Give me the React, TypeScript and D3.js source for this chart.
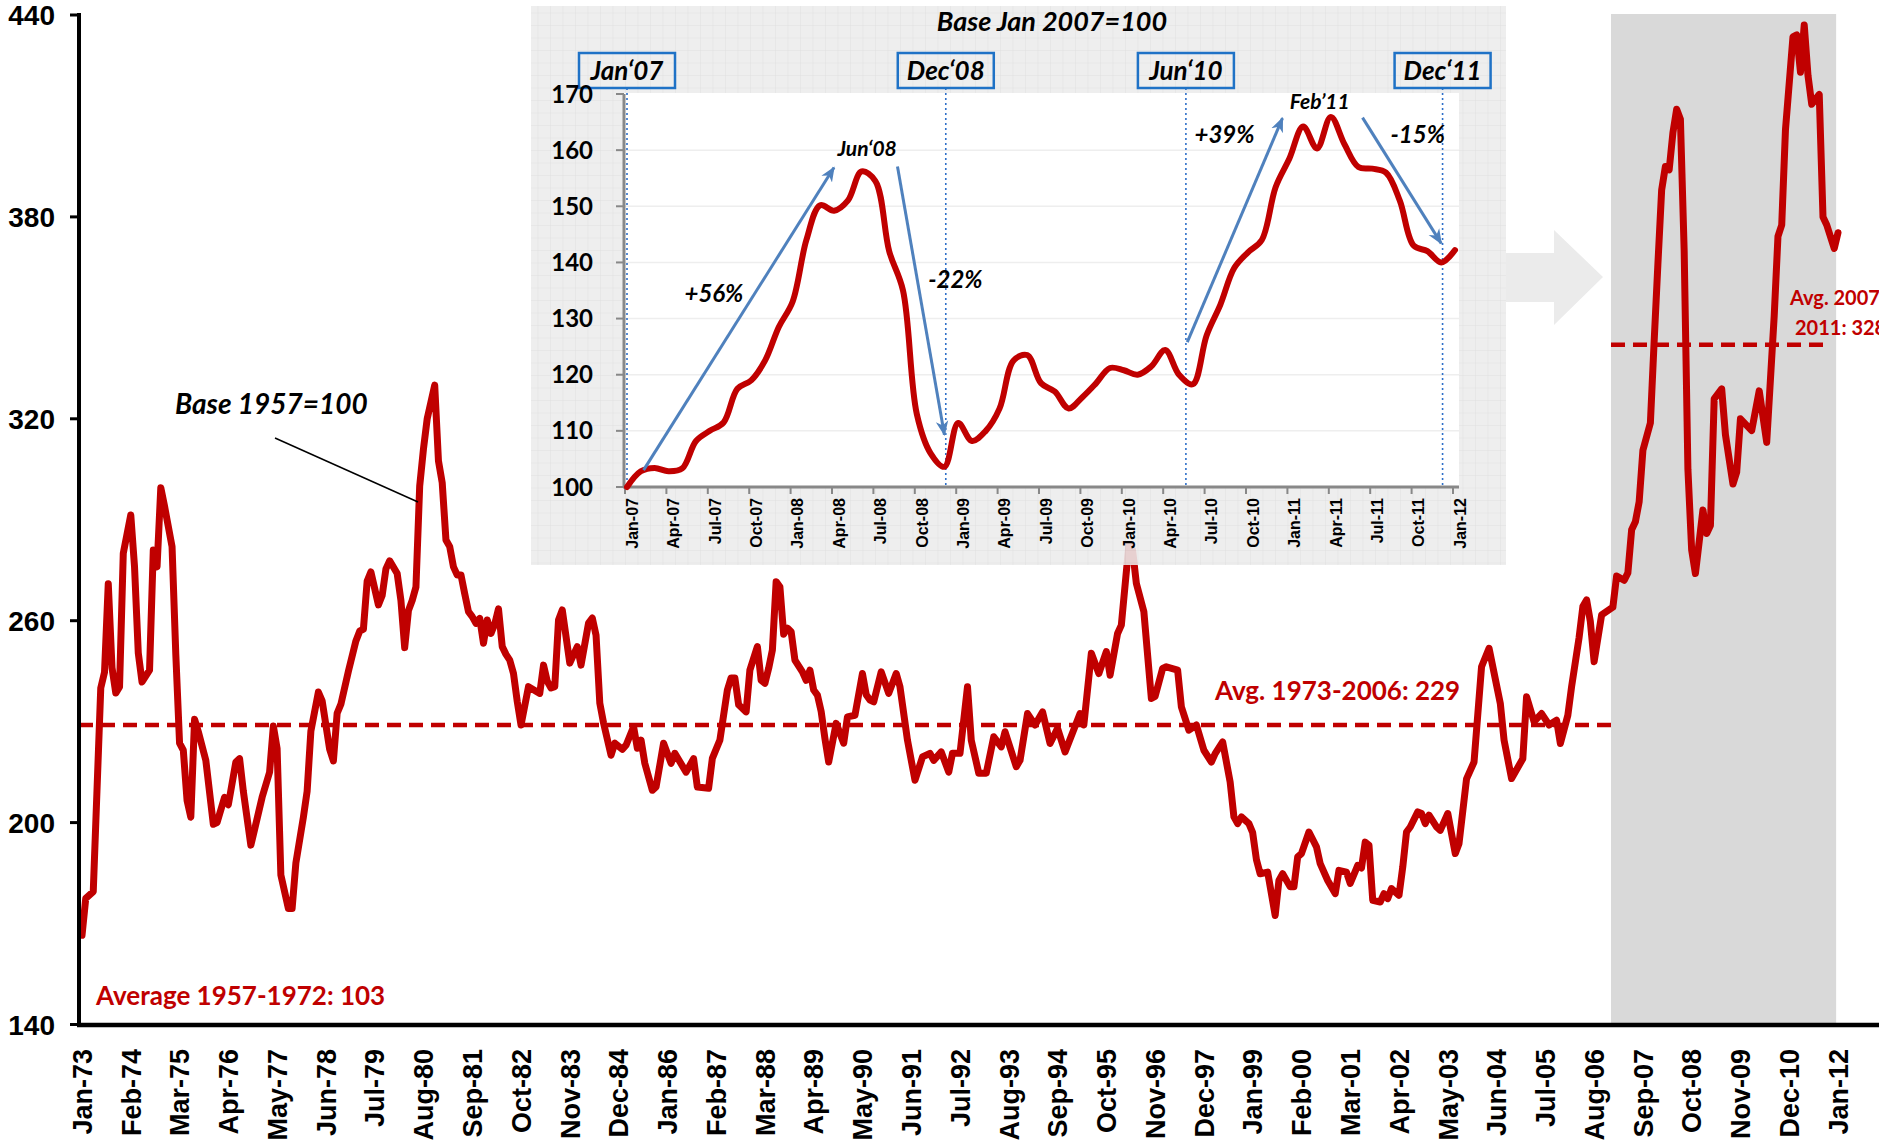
import React from 'react';
import * as d3 from 'd3';

const W = 1879;
const H = 1144;

// ---------- Main series (Base 1957=100), months since Jan-1973 ----------
const mainMonth = [0,1,3,5,6,7,8,9,10,11,13,14,15,16,18,19,20,21,22,24,25,26,27,28,29,30,31,33,35,36,38,39,41,42,43,45,46,48,50,51,52,53,55,56,57,59,60,61,63,64,66,67,68,69,71,73,74,75,76,77,79,80,81,82,84,85,86,87,88,89,90,91,92,93,94,95,96,97,98,99,100,101,102,103,104,105,106,107,108,109,110,111,112,113,114,115,116,117,119,122,123,124,125,126,127,128,130,132,133,135,136,137,138,139,141,142,144,145,147,148,149,150,152,153,155,157,158,161,163,164,167,168,170,172,173,174,175,177,178,180,181,182,183,184,185,186,187,188,189,190,192,193,194,195,196,197,198,199,201,203,204,206,208,209,210,211,213,215,217,218,220,222,224,226,227,229,231,232,234,236,237,239,241,243,245,246,249,250,252,254,256,258,260,262,266,267,269,271,273,274,276,277,279,280,281,283,285,286,288,289,292,293,295,297,299,301,302,304,306,307,308,309,311,312,313,314,316,318,319,320,322,323,324,325,327,329,330,332,334,335,337,338,340,341,342,343,344,346,347,348,349,351,352,353,354,356,357,358,359,361,362,364,366,367,369,371,373,375,378,379,381,384,385,387,389,391,393,394,396,397,399,400,401,402,403,405,408,409,411,412,413,414,415,416,418,419,420,421,422,423,424,425,426,427,428,429,430,432,433,434,435,437,438,440,441,442,445,447,449,451,452,453,454,456,457,458,459,460,461,463,464,465,467,468];
const mainIndex = [166.5,177.5,179.5,240,244.7,271,246,238.5,240.3,280,291.4,276,250.4,241.8,245.3,281,276,299.5,294,282,250,223.6,221.5,206.6,201.6,230.7,227,218.5,199.5,200,207.5,205.3,218,219,209.3,193.3,198,207.5,215,228.7,222,184.4,174.5,174.5,188,201.6,209.3,227.2,238.8,236.2,221.8,218.3,232.5,235.2,245,254,256.9,257.5,271.8,274.5,264.7,267.5,275.4,277.8,274,266,252,263,266,270,300,311,320,325,330,307.5,301,284,282,276,273.6,273.6,268,262.7,261.2,259.2,260.7,253.3,260.2,256.2,259,263.5,252.3,250,248.3,244.3,236,229,240.4,238.4,246.8,242,240,240.4,260.2,263.2,247.4,252.3,246.8,259.3,260.8,255.7,235.5,229.6,220,223.6,221.8,223,228.5,222.1,224.5,217.6,209.6,210.6,223.6,217.6,220.6,215,219,210.6,210.2,219.1,224.5,239.4,243,243,235,232.9,245.3,252.3,242.3,241.4,245.8,251.3,271.6,270.1,256,257.8,256.7,248.3,244.8,242.3,245.3,239.4,237.9,233,225,218,229.5,223.6,231.4,231.9,244.3,238,236.4,235.9,244.8,238.4,244.3,240.4,224.5,212.6,219.5,220.6,218.5,221,215,220.6,220.6,240.4,224.5,214.7,214.7,225.5,222.5,227,216.6,218.5,232.4,229,232.9,223.5,228,221,232.4,229,250.3,244.3,250.8,243.8,256.2,258.7,282.5,281,271.1,262.7,236.9,237.5,245.8,246.3,245.3,234.4,227.5,229,221.5,218,220.5,224,212,201.7,199.7,201.7,199.7,197,189,184.8,185.3,172.4,182.8,184.8,180.9,180.9,189.8,190.8,197.2,192.8,187.8,182.8,178.9,185.8,185.3,181.9,187.3,186.5,194.2,193.3,176.9,176.4,178.9,177.4,180.4,178.4,186.8,197.2,198.7,203.2,202.7,199.7,202.2,198.7,197.7,202.7,190.8,193.8,213,218,246.3,251.8,235.4,224.5,213.1,219,237.4,230,232.4,229,230.4,223.5,231.9,240.4,255,264.2,266.2,259.7,247.8,261.7,264,273.3,272,274.2,287,289.4,295.3,310.6,318.8,343,366,388,395,394,405,412,409,370,305,281,274,292.9,285.9,288.3,325.9,328.9,315.3,300.6,304.1,320,316.5,328.3,313,350.6,374.2,377.6,405.9,433.5,434.1,423,437,422,413.5,416.4,380,377.6,370.6,375.3];

const mainTickLabels = ['Jan-73','Feb-74','Mar-75','Apr-76','May-77','Jun-78','Jul-79','Aug-80','Sep-81','Oct-82','Nov-83','Dec-84','Jan-86','Feb-87','Mar-88','Apr-89','May-90','Jun-91','Jul-92','Aug-93','Sep-94','Oct-95','Nov-96','Dec-97','Jan-99','Feb-00','Mar-01','Apr-02','May-03','Jun-04','Jul-05','Aug-06','Sep-07','Oct-08','Nov-09','Dec-10','Jan-12'];
const mainYTicks = [140, 200, 260, 320, 380, 440];

const avg1973_2006 = 229;
const avg2007_2011 = 342;
const shadeStartMonth = 407.5; // Jan-07
const shadeEndMonth = 467.5;   // Jan-12

// ---------- Inset series (Base Jan 2007=100), months since Jan-2007 ----------
const insetValues = [100,102.8,103.4,102.8,103.3,108.2,110,111.5,117.5,119,122.5,128.5,133,144,150.2,149.2,151,156.2,154.5,142,135,113,106,103.6,111.4,108.2,110,114,122.5,123.5,118.5,117,114,116,118.5,121.2,120.8,120,121.5,124.4,120,118.3,127,132.5,139,141.8,144,153.4,158.5,164.2,160.3,165.9,161,157,156.7,156,151,143,142,140,142.2];
const insetTickLabels = ['Jan-07','Apr-07','Jul-07','Oct-07','Jan-08','Apr-08','Jul-08','Oct-08','Jan-09','Apr-09','Jul-09','Oct-09','Jan-10','Apr-10','Jul-10','Oct-10','Jan-11','Apr-11','Jul-11','Oct-11','Jan-12'];
const insetYTicks = [100, 110, 120, 130, 140, 150, 160, 170];
const insetMarkers = [
  { label: 'Jan\u201807', month: 0 },
  { label: 'Dec\u201808', month: 23.1 },
  { label: 'Jun\u201810', month: 40.5 },
  { label: 'Dec\u201811', month: 59.1 },
];
// arrows in data units [month, value]
const insetArrows = [
  { from: [1.2, 103], to: [15, 156.9], label: '+56%', at: [6.3, 133] },
  { from: [19.6, 157.1], to: [23, 109.3], label: '-22%', at: [23.8, 135.4] },
  { from: [40.6, 125.8], to: [47.5, 165.7], label: '+39%', at: [43.3, 161.3] },
  { from: [53.3, 165.8], to: [59, 143.4], label: '-15%', at: [57.3, 161.3] },
];
const insetPeaks = [
  { label: 'Jun\u201808', at: [17.4, 159] },
  { label: 'Feb\u201911', at: [50.2, 167.4] },
];

const MONTHS = ['Jan','Feb','Mar','Apr','May','Jun','Jul','Aug','Sep','Oct','Nov','Dec'];
function labelToMonth(lbl: string, baseYear: number) {
  const [mn, yy] = lbl.split('-');
  const y2 = parseInt(yy, 10);
  const year = y2 >= 50 ? 1900 + y2 : 2000 + y2;
  return (year - baseYear) * 12 + MONTHS.indexOf(mn);
}

const RED = '#c00000';
const BLUE_BOX = '#1f72c6';
const ARROW = '#4f81bd';
const CAL = 'Lato, "Open Sans", sans-serif';
const ARIAL = '"Liberation Sans", Arial, sans-serif';

export default function App() {
  const x = d3.scaleLinear().domain([0, 468]).range([82, 1838]);
  const y = d3.scaleLinear().domain([140, 440]).range([1024.5, 15]);

  const mainPts: [number, number][] = mainMonth.map((m, i) => [m, mainIndex[i]]);
  const mainLine = d3.line<[number, number]>().x(d => x(d[0])).y(d => y(d[1]))(mainPts) || '';

  const xi = d3.scaleLinear().domain([0, 60]).range([627, 1455]);
  const yi = d3.scaleLinear().domain([100, 170]).range([487, 94]);
  const insetLine = d3.line<number>()
    .x((_, i) => xi(i))
    .y(d => yi(d))
    .curve(d3.curveCatmullRom.alpha(0.5))(insetValues) || '';

  const insetLeft = 624, insetRight = 1459, insetTop = 93, insetBottom = 487;

  return (
    <div style={{ width: W, height: H, overflow: 'hidden' }}>
      <style>{`html,body{margin:0;padding:0;overflow:hidden;background:#fff}`}</style>
      <svg width={W} height={H} viewBox={`0 0 ${W} ${H}`} style={{ display: 'block' }}>
        <defs>
          <pattern id="gridpat" width="12.5" height="12.5" patternUnits="userSpaceOnUse">
            <rect width="12.5" height="12.5" fill="#ececec" />
            <path d="M12.5 0 L0 0 0 12.5" stroke="#dcdcdc" strokeWidth="1" fill="none" />
          </pattern>
          <marker id="stealth" viewBox="0 0 12 10" refX="11" refY="5" markerWidth="5" markerHeight="5" orient="auto" markerUnits="strokeWidth">
            <path d="M0,0 L12,5 L0,10 L3.5,5 z" fill={ARROW} />
          </marker>
        </defs>

        {/* shaded 2007-2011 region */}
        <rect x={x(shadeStartMonth)} y={y(440) - 1} width={x(shadeEndMonth) - x(shadeStartMonth)} height={y(140) - y(440) + 1} fill="#d9d9d9" />

        {/* average lines */}
        <line x1={79} x2={x(shadeStartMonth)} y1={y(avg1973_2006)} y2={y(avg1973_2006)} stroke={RED} strokeWidth={4.5} strokeDasharray="14 8" />
        <line x1={x(shadeStartMonth)} x2={1827} y1={y(avg2007_2011)} y2={y(avg2007_2011)} stroke={RED} strokeWidth={4.5} strokeDasharray="14 8" />

        {/* main line */}
        <path d={mainLine} fill="none" stroke={RED} strokeWidth={7} strokeLinejoin="round" strokeLinecap="round" />

        {/* axes */}
        <line x1={79} x2={79} y1={13} y2={1026} stroke="#000" strokeWidth={4} />
        <line x1={77} x2={W} y1={1025} y2={1025} stroke="#000" strokeWidth={4.5} />
        {mainYTicks.map(t => (
          <g key={t}>
            <line x1={70} x2={79} y1={y(t)} y2={y(t)} stroke="#000" strokeWidth={3} />
            <text x={55} y={y(t)} dy="0.36em" textAnchor="end" fontFamily={ARIAL} fontWeight="bold" fontSize={28} fill="#000">{t}</text>
          </g>
        ))}
        {mainTickLabels.map(l => {
          const m = labelToMonth(l, 1973);
          return (
            <text key={l} transform={`translate(${x(m)},1049) rotate(-90)`} dy="0.36em" textAnchor="end" fontFamily={ARIAL} fontWeight="bold" fontSize={27} fill="#000">{l}</text>
          );
        })}

        {/* main annotations */}
        <text x={96} y={1005} fontFamily={CAL} fontWeight="bold" fontSize={26} fill={RED}>Average 1957-1972: 103</text>
        <text x={1215} y={700} fontFamily={CAL} fontWeight="bold" fontSize={26} fill={RED}>Avg. 1973-2006: {avg1973_2006}</text>
        <text x={1790} y={305} fontFamily={CAL} fontWeight="bold" fontSize={20} fill={RED}>Avg. 2007-</text>
        <text x={1795} y={335} fontFamily={CAL} fontWeight="bold" fontSize={20} fill={RED}>2011: 328</text>
        <text x={175} y={414} fontFamily={CAL} fontWeight="bold" fontStyle="italic" fontSize={28} fill="#000">Base 1957=100</text>
        <line x1={275} y1={438} x2={418} y2={502} stroke="#000" strokeWidth={1.5} />

        {/* big grey arrow */}
        <polygon points="1506,253 1554,253 1554,230 1603,277 1554,325 1554,302 1506,302" fill="#ebebeb" />

        {/* ---------- inset ---------- */}
        <rect x={531} y={6} width={975} height={559} fill="url(#gridpat)" opacity={0.88} />
        <rect x={insetLeft} y={insetTop} width={insetRight - insetLeft} height={insetBottom - insetTop} fill="#fff" />
        {insetYTicks.filter(t => t > 100 && t < 170).map(t => (
          <line key={'g' + t} x1={insetLeft} x2={insetRight} y1={yi(t)} y2={yi(t)} stroke="#eeeeee" strokeWidth={1.5} />
        ))}
        <text x={1052} y={31} textAnchor="middle" fontFamily={CAL} fontWeight="bold" fontStyle="italic" fontSize={27} fill="#000">Base Jan 2007=100</text>

        {/* dotted marker lines and boxes */}
        {insetMarkers.map(mk => (
          <g key={mk.label}>
            <line x1={xi(mk.month)} x2={xi(mk.month)} y1={88} y2={insetBottom} stroke="#2e6fc9" strokeWidth={1.6} strokeDasharray="2 3" />
            <rect x={xi(mk.month) - 48} y={53} width={96} height={35} fill="none" stroke={BLUE_BOX} strokeWidth={2.5} />
            <text x={xi(mk.month)} y={80} textAnchor="middle" fontFamily={CAL} fontWeight="bold" fontStyle="italic" fontSize={26} fill="#000">{mk.label}</text>
          </g>
        ))}

        {/* inset axes */}
        <line x1={insetLeft} x2={insetLeft} y1={yi(170)} y2={insetBottom + 1} stroke="#888" strokeWidth={3} />
        <line x1={insetLeft - 1} x2={insetRight} y1={insetBottom} y2={insetBottom} stroke="#888" strokeWidth={3} />
        {insetYTicks.map(t => (
          <g key={'it' + t}>
            <line x1={insetLeft - 8} x2={insetLeft} y1={yi(t)} y2={yi(t)} stroke="#888" strokeWidth={2} />
            <text x={593} y={yi(t)} dy="0.36em" textAnchor="end" fontFamily={CAL} fontWeight="bold" fontSize={24} fill="#000">{t}</text>
          </g>
        ))}
        {insetTickLabels.map(l => {
          const m = labelToMonth(l, 2007);
          return (
            <g key={l}>
              <line x1={xi(m) - 2} x2={xi(m) - 2} y1={insetBottom} y2={insetBottom + 7} stroke="#888" strokeWidth={2} />
              <text transform={`translate(${xi(m) + 5},498) rotate(-90)`} dy="0.36em" textAnchor="end" fontFamily={ARIAL} fontWeight="bold" fontSize={16} fill="#000">{l}</text>
            </g>
          );
        })}

        {/* inset line */}
        <path d={insetLine} fill="none" stroke={RED} strokeWidth={6} strokeLinejoin="round" strokeLinecap="round" />

        {/* arrows & labels */}
        {insetArrows.map(a => (
          <g key={a.label}>
            <line x1={xi(a.from[0])} y1={yi(a.from[1])} x2={xi(a.to[0])} y2={yi(a.to[1])} stroke={ARROW} strokeWidth={3} markerEnd="url(#stealth)" />
            <text x={xi(a.at[0])} y={yi(a.at[1])} textAnchor="middle" fontFamily={CAL} fontWeight="bold" fontStyle="italic" fontSize={24} fill="#000">{a.label}</text>
          </g>
        ))}
        {insetPeaks.map(p => (
          <text key={p.label} x={xi(p.at[0])} y={yi(p.at[1])} textAnchor="middle" fontFamily={CAL} fontWeight="bold" fontStyle="italic" fontSize={21} fill="#000">{p.label}</text>
        ))}
      </svg>
    </div>
  );
}
